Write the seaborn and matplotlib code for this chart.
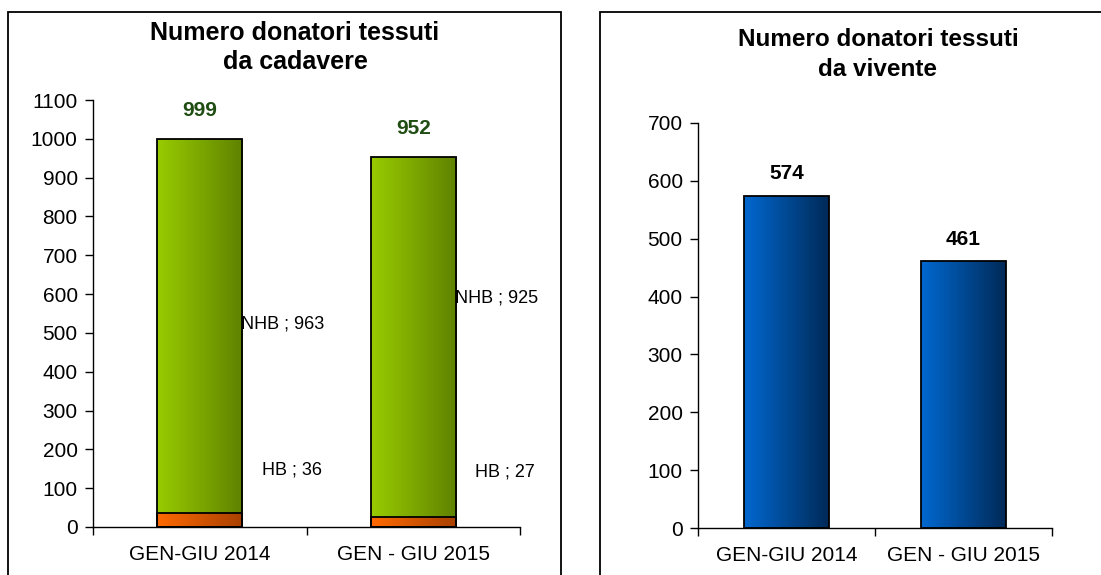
import matplotlib.pyplot as plt
import numpy as np
import pandas as pd
import seaborn as sns
from matplotlib.colors import LinearSegmentedColormap
from matplotlib.patches import Rectangle

periods = ["GEN-GIU 2014", "GEN - GIU 2015"]
hb = [36, 27]
nhb = [963, 925]
totals_cadavere = [999, 952]
vivente = [574, 461]

# label heights (data units) as placed in the original chart
nhb_label_y = [524, 591]
hb_label_y = [146, 141]

GREEN = ["#99cc00", "#5f8200"]
ORANGE = ["#ff6a00", "#a84000"]
BLUE = ["#0068d0", "#002a58"]

sns.set_theme(style="white")
plt.rcParams["font.family"] = ["Liberation Sans", "DejaVu Sans"]
plt.rcParams["text.color"] = "black"
plt.rcParams["xtick.color"] = "black"
plt.rcParams["ytick.color"] = "black"


def gradient_fill(ax, patches, colors):
    cmap = LinearSegmentedColormap.from_list("g", colors)
    grad = np.linspace(0, 1, 256).reshape(1, -1)
    for p in patches:
        x, y = p.get_x(), p.get_y()
        w, h = p.get_width(), p.get_height()
        p.set_facecolor("none")
        p.set_edgecolor("black")
        p.set_linewidth(1.3)
        p.set_zorder(3)
        im = ax.imshow(grad, cmap=cmap, aspect="auto",
                       extent=(x, x + w, y, y + h), zorder=2)
        im.set_clip_path(p)


def style_axes(ax, ymax, step):
    ax.set_xlim(-0.5, 1.5)
    ax.set_ylim(0, ymax)
    ax.set_yticks(np.arange(0, ymax + 1, step))
    ax.set_xticks([0, 1])
    ax.set_xticklabels(periods)
    ax.set_xticks([-0.5, 0.5, 1.5], minor=True)
    ax.tick_params(axis="x", which="major", length=0, labelsize=15, pad=13,
                   labelcolor="black")
    ax.tick_params(axis="x", which="minor", length=6, width=1, color="black",
                   direction="out", bottom=True)
    ax.tick_params(axis="y", length=6, width=1, color="black", labelsize=15,
                   direction="out", left=True, pad=5, labelcolor="black")
    ax.set_xlabel("")
    ax.set_ylabel("")
    for s in ["top", "right"]:
        ax.spines[s].set_visible(False)
    for s in ["left", "bottom"]:
        ax.spines[s].set_color("black")
        ax.spines[s].set_linewidth(1)


fig = plt.figure(figsize=(11.01, 5.75), dpi=100)

# panel frames
fig.add_artist(Rectangle((8 / 1101, -0.01), 553 / 1101, 1 - 12 / 575 + 0.01,
                         transform=fig.transFigure, fill=False,
                         edgecolor="black", linewidth=1.3))
fig.add_artist(Rectangle((600 / 1101, -0.01), 520 / 1101, 1 - 12 / 575 + 0.01,
                         transform=fig.transFigure, fill=False,
                         edgecolor="black", linewidth=1.3))

# left: tissue donors from cadaver
ax1 = fig.add_axes([93 / 1101, 1 - 527 / 575, 427 / 1101, 427 / 575])
df1 = pd.DataFrame({"periodo": periods, "totale": totals_cadavere, "HB": hb})
sns.barplot(data=df1, x="periodo", y="totale", ax=ax1, width=0.4, color=GREEN[0])
n_green = len(ax1.patches)
sns.barplot(data=df1, x="periodo", y="HB", ax=ax1, width=0.4, color=ORANGE[0])
gradient_fill(ax1, ax1.patches[:n_green], GREEN)
gradient_fill(ax1, ax1.patches[n_green:], ORANGE)
style_axes(ax1, 1100, 100)

for i, p in enumerate(ax1.patches[:n_green]):
    right = p.get_x() + p.get_width()
    ax1.text(p.get_x() + p.get_width() / 2, totals_cadavere[i] + 75,
             str(totals_cadavere[i]), ha="center", va="center",
             fontsize=15, fontweight="bold", color="#1f4d12")
    ax1.text(right - 0.005, nhb_label_y[i], "NHB ; " + str(nhb[i]), ha="left",
             va="center", fontsize=13)
    ax1.text(right + 0.09, hb_label_y[i], "HB ; " + str(hb[i]), ha="left",
             va="center", fontsize=13)

fig.text(295 / 1101, 1 - 33 / 575, "Numero donatori tessuti",
         ha="center", va="center", fontsize=18, fontweight="bold")
fig.text(295 / 1101, 1 - 62 / 575, "da cadavere",
         ha="center", va="center", fontsize=18, fontweight="bold")

# right: tissue donors from living
ax2 = fig.add_axes([698 / 1101, 1 - 528 / 575, 354 / 1101, 405 / 575])
df2 = pd.DataFrame({"periodo": periods, "donatori": vivente})
sns.barplot(data=df2, x="periodo", y="donatori", ax=ax2, width=0.48,
            color=BLUE[0])
gradient_fill(ax2, ax2.patches, BLUE)
style_axes(ax2, 700, 100)

for i, p in enumerate(ax2.patches):
    ax2.text(p.get_x() + p.get_width() / 2, vivente[i] + 38, str(vivente[i]),
             ha="center", va="center", fontsize=15, fontweight="bold",
             color="black")

fig.text(878 / 1101, 1 - 40 / 575, "Numero donatori tessuti",
         ha="center", va="center", fontsize=17.5, fontweight="bold")
fig.text(878 / 1101, 1 - 70 / 575, "da vivente",
         ha="center", va="center", fontsize=17.5, fontweight="bold")

fig.savefig("out.png", dpi=100)
